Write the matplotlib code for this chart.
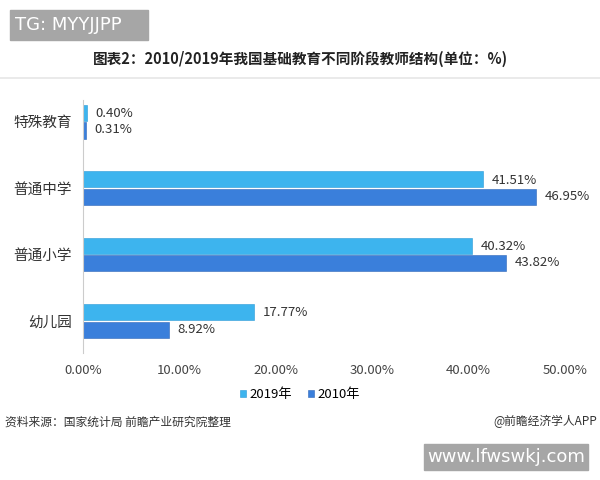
import matplotlib
matplotlib.use('Agg')
import matplotlib.pyplot as plt
from matplotlib.patches import Rectangle
import numpy as np

plt.rcParams['font.family'] = ['Noto Sans CJK SC', 'DejaVu Sans']

# data
categories = ['特殊教育', '普通中学', '普通小学', '幼儿园']
values_2019 = [0.40, 41.51, 40.32, 17.77]
values_2010 = [0.31, 46.95, 43.82, 8.92]
xticks = [0, 10, 20, 30, 40, 50]

c2019 = '#3db4ee'
c2010 = '#3a7fdb'

fig = plt.figure(figsize=(6, 4.8), dpi=100)
ax = fig.add_axes([0.138, 0.265, 0.804, 0.527])

y = np.arange(len(categories))
h = 0.245
ax.barh(y - h / 2 - 0.01, values_2019, height=h, color=c2019, edgecolor='#2a9ad6', linewidth=0.4, label='2019年')
ax.barh(y + h / 2 + 0.01, values_2010, height=h, color=c2010, edgecolor='#2f67b8', linewidth=0.4, label='2010年')

for i in range(len(categories)):
    ax.text(values_2019[i] + 0.9, y[i] - h / 2, '%.2f%%' % values_2019[i], va='center', ha='left', fontsize=9.5, color='#333333')
    ax.text(values_2010[i] + 0.9, y[i] + h / 2, '%.2f%%' % values_2010[i], va='center', ha='left', fontsize=9.5, color='#333333')

ax.set_xlim(0, 50)
ax.set_ylim(3.48, -0.33)
ax.set_yticks(y)
ax.set_yticklabels(categories, fontsize=10.5, color='#333333')
ax.set_xticks(xticks)
ax.set_xticklabels(['%.2f%%' % t for t in xticks], fontsize=9.5, color='#444444')
ax.tick_params(axis='y', length=0, pad=8)
ax.tick_params(axis='x', length=0, pad=8)
for s in ['top', 'right', 'bottom']:
    ax.spines[s].set_visible(False)
ax.spines['left'].set_color('#cccccc')

leg = fig.legend(loc='center', bbox_to_anchor=(0.5, 0.178), ncol=2, frameon=False, fontsize=9.5,
                 handlelength=0.45, handleheight=0.45, handletextpad=0.3, columnspacing=1.2)

fig.text(0.5, 0.878, '图表2：2010/2019年我国基础教育不同阶段教师结构(单位：%)', ha='center', va='center',
         fontsize=10.5, fontweight='bold', color='#222222')
fig.add_artist(plt.Line2D([0, 1], [0.838, 0.838], color='#e6e6e6', linewidth=1.2))

fig.text(0.008, 0.121, '资料来源：国家统计局 前瞻产业研究院整理', ha='left', va='center', fontsize=8.5, color='#333333')
fig.text(0.995, 0.121, '@前瞻经济学人APP', ha='right', va='center', fontsize=8.5, color='#333333')

# overlay stamps
fig.add_artist(Rectangle((0.017, 0.917), 0.23, 0.063, transform=fig.transFigure, color='#a6a6a6'))
fig.text(0.025, 0.948, 'TG: MYYJJPP', ha='left', va='center', fontsize=13, color='white', family='DejaVu Sans')
fig.add_artist(Rectangle((0.707, 0.02), 0.273, 0.056, transform=fig.transFigure, color='#a6a6a6'))
fig.text(0.843, 0.048, 'www.lfwswkj.com', ha='center', va='center', fontsize=13, color='white', family='DejaVu Sans')

fig.savefig('out.png', dpi=100)
